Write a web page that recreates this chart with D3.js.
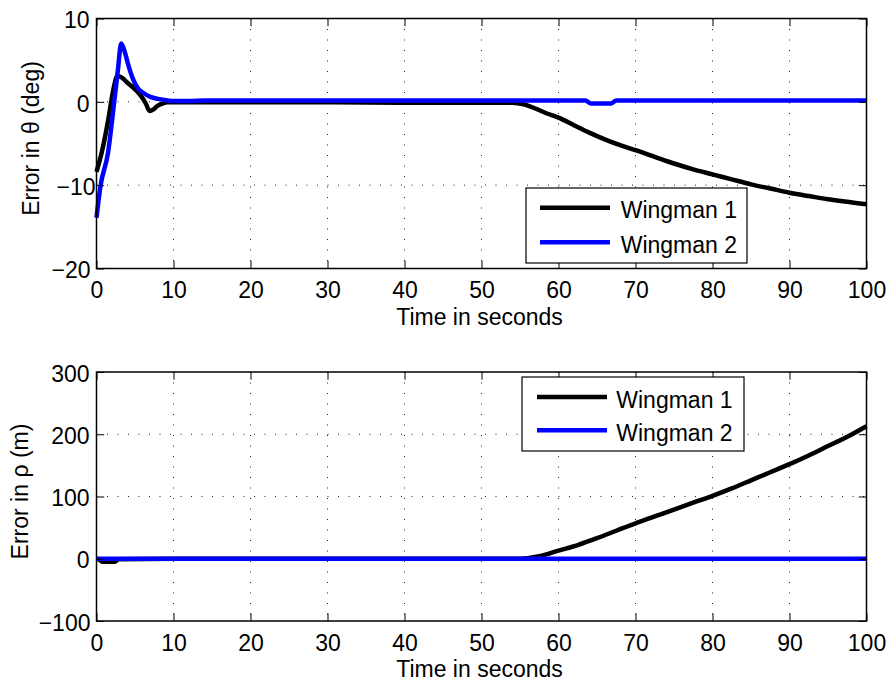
<!DOCTYPE html>
<html>
<head>
<meta charset="utf-8">
<script src="https://cdn.jsdelivr.net/npm/d3@7"></script>
<style>
  html, body { margin: 0; padding: 0; background: #fff; }
  svg { display: block; }
  text { font-family: "Liberation Sans", Arial, Helvetica, sans-serif; fill: #000; }
</style>
</head>
<body>
<svg id="chart" width="893" height="685"></svg>
<script>
// Heading error (deg) for each wingman
const thetaTime1 = [0, 0.7, 1.5, 2.2, 2.7, 3.3, 4.0, 5.0, 5.7, 6.4, 6.9, 7.4, 7.9, 8.6, 9.2, 10, 20, 30, 40, 50, 54, 55.5, 57, 58.5, 60, 62, 64, 66, 68, 70, 72.5, 75, 77.5, 80, 82.5, 85, 87.5, 90, 92.5, 95, 97.5, 100];
const theta1 = [-8.4, -6.0, -2.3, 1.5, 3.1, 2.9, 2.3, 1.5, 0.8, -0.2, -1.1, -0.9, -0.5, -0.2, -0.05, -0.05, -0.05, -0.05, -0.1, -0.1, -0.1, -0.3, -0.8, -1.4, -1.9, -2.8, -3.7, -4.5, -5.2, -5.8, -6.6, -7.4, -8.1, -8.7, -9.3, -9.9, -10.4, -10.9, -11.3, -11.7, -12.0, -12.3];

const thetaTime2 = [0, 0.5, 1.5, 2.3, 2.8, 3.2, 3.6, 4.2, 4.8, 5.4, 6.2, 7.0, 8.0, 9.0, 10, 12, 14, 20, 40, 63.5, 64.2, 66.8, 67.5, 80, 100];
const theta2 = [-13.9, -10.2, -6.1, 0.0, 4.0, 7.0, 6.2, 4.2, 2.6, 1.6, 1.0, 0.6, 0.35, 0.2, 0.1, 0.1, 0.15, 0.15, 0.15, 0.15, -0.2, -0.2, 0.15, 0.15, 0.15];

// Range error (m) for each wingman
const rhoTime1 = [0, 0.4, 0.8, 2.4, 2.8, 10, 30, 50, 54.5, 56, 57.5, 60, 62.5, 65, 67.5, 70, 72.5, 75, 77.5, 80, 82.5, 85, 87.5, 90, 92.5, 95, 97.5, 100];
const rho1 = [0, -2, -5, -5, -1, 0, 0, 0, 0, 1, 4, 13, 22, 33, 45, 57, 68, 79, 90, 101, 113, 126, 139, 152, 166, 181, 196, 213];

const rhoTime2 = [0, 25, 50, 75, 100];
const rho2 = [0, 0, 0, 0, 0];

const xTicks = [0, 10, 20, 30, 40, 50, 60, 70, 80, 90, 100];
const thetaTicks = [-20, -10, 0, 10];
const rhoTicks = [-100, 0, 100, 200, 300];
const seriesNames = ["Wingman 1", "Wingman 2"];
const seriesColors = ["#000000", "#0000ff"];

const svg = d3.select("#chart");
const fontSize = 23;

function drawPanel(cfg) {
  const x = d3.scaleLinear().domain([0, 100]).range([cfg.left, cfg.right]);
  const y = d3.scaleLinear().domain(cfg.yDomain).range([cfg.bottom, cfg.top]);
  const g = svg.append("g");

  // dotted grid
  const grid = g.append("g").attr("stroke", "#222").attr("stroke-width", 1)
    .attr("stroke-dasharray", "1,9.5");
  grid.selectAll("line.vx").data(xTicks.slice(1, -1)).join("line")
    .attr("x1", d => x(d)).attr("x2", d => x(d))
    .attr("y1", cfg.top).attr("y2", cfg.bottom);
  grid.selectAll("line.hy").data(cfg.yTicks.slice(1, -1)).join("line")
    .attr("x1", cfg.left).attr("x2", cfg.right)
    .attr("y1", d => y(d)).attr("y2", d => y(d));

  // series
  const line = d3.line().x(d => x(d[0])).y(d => y(d[1])).curve(d3.curveMonotoneX);
  cfg.series.forEach((s, i) => {
    const pts = s.t.map((t, k) => [t, s.v[k]]);
    g.append("path").datum(pts)
      .attr("d", line)
      .attr("fill", "none")
      .attr("stroke", seriesColors[i])
      .attr("stroke-width", 4.5)
      .attr("stroke-linejoin", "round")
      .attr("stroke-linecap", "butt");
  });

  // axes with inward ticks on all sides
  const tl = 7.7;
  const axB = d3.axisBottom(x).tickValues(xTicks).tickSize(-tl).tickPadding(cfg.xPad)
    .tickFormat(d3.format("d"));
  const axT = d3.axisTop(x).tickValues(xTicks).tickSize(-tl).tickFormat("");
  const axL = d3.axisLeft(y).tickValues(cfg.yTicks).tickSize(-tl).tickPadding(7)
    .tickFormat(d => d < 0 ? "\u2212" + Math.abs(d) : String(d));
  const axR = d3.axisRight(y).tickValues(cfg.yTicks).tickSize(-tl).tickFormat("");

  const styleAxis = sel => {
    sel.selectAll(".tick line").attr("stroke", "#000").attr("stroke-width", 1);
    sel.selectAll(".tick text").attr("font-size", fontSize)
      .attr("font-family", "Liberation Sans, Arial, sans-serif").attr("fill", "#000");
  };
  g.append("g").attr("transform", `translate(0,${cfg.bottom})`).call(axB).call(styleAxis);
  g.append("g").attr("transform", `translate(0,${cfg.top})`).call(axT).call(styleAxis);
  const gl = g.append("g").attr("transform", `translate(${cfg.left},0)`).call(axL).call(styleAxis);
  // negative labels sit a little closer to the axis; the lowest one stays clear of the x labels
  const yMin = cfg.yDomain[0];
  gl.selectAll(".tick text").attr("dy", "0.4em")
    .attr("dx", d => d < 0 ? (d === yMin ? 1 : 6) : 0);
  g.append("g").attr("transform", `translate(${cfg.right},0)`).call(axR).call(styleAxis);
  g.selectAll(".domain").remove();
  g.append("rect").attr("x", cfg.left).attr("y", cfg.top)
    .attr("width", cfg.right - cfg.left).attr("height", cfg.bottom - cfg.top)
    .attr("fill", "none").attr("stroke", "#000").attr("stroke-width", 1.5);

  // axis titles
  g.append("text").attr("x", (cfg.left + cfg.right) / 2 - 2).attr("y", cfg.bottom + 56)
    .attr("text-anchor", "middle").attr("font-size", fontSize).text("Time in seconds");
  g.append("text")
    .attr("transform", `translate(${cfg.ylabelX},${(cfg.top + cfg.bottom) / 2 - 5}) rotate(-90)`)
    .attr("text-anchor", "middle").attr("font-size", fontSize).text(cfg.ylabel);

  // legend
  const L = cfg.legend;
  const lg = g.append("g").attr("transform", `translate(${L.x},${L.y})`);
  lg.append("rect").attr("width", L.w).attr("height", L.h)
    .attr("fill", "#fff").attr("stroke", "#000").attr("stroke-width", 1.2);
  seriesNames.forEach((name, i) => {
    const ry = L.row0 + i * L.rowStep;
    lg.append("line").attr("x1", L.lineX0).attr("x2", L.lineX1)
      .attr("y1", ry).attr("y2", ry)
      .attr("stroke", seriesColors[i]).attr("stroke-width", 4.5);
    lg.append("text").attr("x", L.textX).attr("y", ry + 10.5)
      .attr("font-size", fontSize).text(name);
  });
}

drawPanel({
  left: 96.5, right: 866.5, top: 18.5, bottom: 268.5, xPad: 13.5,
  yDomain: [-20, 10], yTicks: thetaTicks,
  ylabel: "Error in \u03b8 (deg)", ylabelX: 38.5,
  series: [{ t: thetaTime1, v: theta1 }, { t: thetaTime2, v: theta2 }],
  legend: { x: 526, y: 188, w: 221, h: 75, row0: 19.7, rowStep: 34.6, lineX0: 14, lineX1: 84, textX: 94.7 }
});

drawPanel({
  left: 96.5, right: 866.5, top: 372, bottom: 621, xPad: 13.5,
  yDomain: [-100, 300], yTicks: rhoTicks,
  ylabel: "Error in \u03c1 (m)", ylabelX: 27.5,
  series: [{ t: rhoTime1, v: rho1 }, { t: rhoTime2, v: rho2 }],
  legend: { x: 522, y: 377, w: 222, h: 74, row0: 20, rowStep: 33.3, lineX0: 15, lineX1: 85, textX: 94.3 }
});
</script>
</body>
</html>
